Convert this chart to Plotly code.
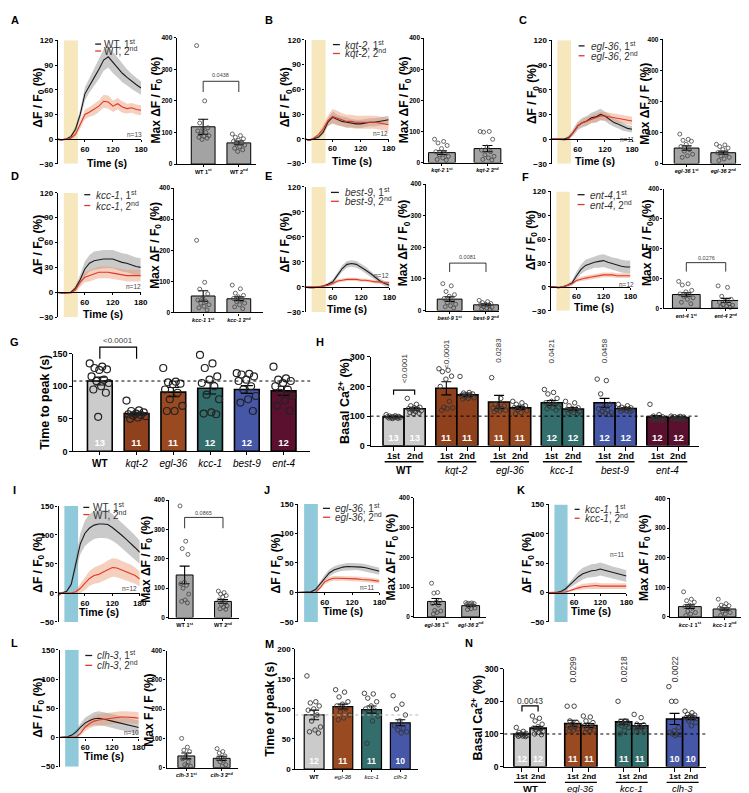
import plotly.graph_objects as go

FONT = "Liberation Sans"
W, H = 749, 793

# ------------------------------------------------------------------ data
time_s = [0, 10, 20, 30, 40, 50, 60, 70, 80, 90, 100, 110, 120, 130, 140, 150, 160, 170, 180]

A_1st_mean = [0, -1, 0, 3, 12, 30, 55, 66, 75, 85, 96, 100, 93, 87, 80, 75, 70, 66, 62]
A_1st_sem = [1, 1, 1, 2, 4, 6, 8, 9, 10, 12, 13, 13, 13, 12, 11, 10, 9, 9, 8]
A_2nd_mean = [0, -1, 0, 1, 6, 18, 30, 33, 36, 40, 46, 45, 40, 43, 39, 37, 38, 36, 35]
A_2nd_sem = [1, 1, 1, 2, 3, 5, 6, 6, 7, 7, 8, 8, 7, 7, 7, 6, 6, 6, 6]

B_1st_mean = [0, -2, 0, 2, 8, 20, 26, 23, 21, 20, 19, 18, 18, 19, 20, 20, 21, 22, 23]
B_1st_sem = [1, 1, 1, 2, 3, 5, 7, 6, 6, 6, 5, 5, 5, 5, 5, 5, 5, 5, 5]
B_2nd_mean = [0, -2, 1, 5, 12, 22, 27, 25, 23, 21, 21, 20, 20, 20, 20, 20, 19, 18, 17]
B_2nd_sem = [1, 1, 1, 2, 4, 6, 9, 9, 8, 8, 8, 8, 8, 8, 8, 8, 8, 8, 8]

C_1st_mean = [0, 0, 0, 0, 2, 8, 16, 20, 22, 26, 27, 30, 28, 24, 20, 18, 15, 13, 12]
C_1st_sem = [1, 1, 1, 1, 2, 4, 5, 6, 6, 6, 7, 7, 6, 6, 5, 5, 5, 4, 4]
C_2nd_mean = [0, 0, 0, -1, 1, 8, 16, 20, 22, 24, 26, 28, 28, 27, 26, 25, 24, 23, 22]
C_2nd_sem = [1, 1, 1, 1, 2, 3, 4, 4, 5, 5, 5, 5, 5, 5, 5, 5, 5, 5, 5]

D_1st_mean = [0, -1, -1, 0, 5, 15, 28, 35, 38, 39, 40, 40, 40, 38, 36, 35, 33, 31, 30]
D_1st_sem = [1, 1, 1, 1, 3, 6, 9, 10, 11, 11, 11, 11, 11, 11, 11, 11, 11, 11, 11]
D_2nd_mean = [0, -1, -1, -1, 3, 12, 18, 20, 22, 24, 24, 24, 23, 22, 21, 20, 20, 20, 20]
D_2nd_sem = [1, 1, 1, 1, 2, 5, 6, 7, 7, 7, 7, 7, 7, 7, 7, 7, 7, 7, 7]

E_1st_mean = [0, -1, -1, 0, 1, 3, 6, 14, 22, 27, 28, 27, 24, 20, 16, 11, 7, 4, 2]
E_1st_sem = [1, 1, 1, 1, 1, 2, 3, 3, 4, 4, 4, 4, 4, 4, 3, 3, 3, 3, 3]
E_2nd_mean = [0, 0, 0, 0, 1, 2, 4, 7, 8, 9, 9, 9, 8, 8, 7, 6, 6, 5, 5]
E_2nd_sem = [1, 1, 1, 1, 1, 2, 2, 2, 2, 2, 2, 2, 2, 2, 2, 2, 2, 2, 2]

F_1st_mean = [0, 0, -1, 0, 2, 5, 14, 22, 27, 29, 31, 32, 33, 31, 29, 28, 26, 25, 25]
F_1st_sem = [1, 1, 1, 1, 2, 3, 5, 6, 7, 7, 7, 8, 8, 8, 8, 8, 8, 8, 8]
F_2nd_mean = [0, 0, -1, 0, 2, 4, 8, 10, 11, 12, 13, 14, 15, 15, 15, 14, 14, 14, 14]
F_2nd_sem = [1, 1, 1, 1, 1, 2, 2, 3, 3, 3, 3, 3, 3, 3, 3, 3, 3, 3, 3]

I_1st_mean = [0, 0, 3, 15, 50, 85, 103, 112, 117, 119, 119, 118, 113, 107, 100, 93, 86, 78, 70]
I_1st_sem = [1, 1, 2, 5, 12, 18, 22, 24, 24, 24, 24, 24, 23, 22, 21, 21, 21, 21, 20]
I_2nd_mean = [-5, 0, 0, 0, 2, 8, 17, 25, 30, 32, 36, 40, 44, 43, 40, 37, 34, 30, 24]
I_2nd_sem = [3, 2, 2, 2, 3, 8, 12, 13, 14, 15, 15, 16, 16, 16, 15, 15, 15, 14, 13]

J_1st_mean = [0, 0, 0, 1, 5, 15, 25, 33, 38, 41, 43, 44, 44, 44, 43, 42, 40, 38, 36]
J_1st_sem = [1, 1, 1, 1, 2, 4, 5, 6, 6, 6, 6, 6, 6, 6, 6, 6, 6, 6, 6]
J_2nd_mean = [0, 0, 0, -1, 0, 8, 18, 22, 24, 24, 24, 24, 23, 23, 22, 22, 21, 20, 19]
J_2nd_sem = [1, 1, 1, 1, 1, 3, 4, 4, 4, 4, 4, 4, 4, 4, 4, 4, 4, 4, 4]

K_1st_mean = [0, 0, 0, 2, 6, 13, 20, 27, 32, 35, 37, 38, 40, 38, 36, 34, 32, 30, 28]
K_1st_sem = [1, 1, 1, 1, 3, 5, 7, 9, 10, 10, 11, 11, 11, 11, 10, 10, 10, 10, 10]
K_2nd_mean = [0, 0, 0, 0, 1, 3, 6, 8, 10, 11, 12, 12, 11, 11, 11, 11, 11, 11, 11]
K_2nd_sem = [1, 1, 1, 1, 1, 2, 3, 4, 5, 5, 5, 5, 5, 5, 5, 5, 5, 5, 5]

L_1st_mean = [0, 0, 1, 4, 10, 18, 25, 29, 32, 33, 32, 30, 28, 26, 24, 22, 20, 19, 17]
L_1st_sem = [1, 1, 1, 2, 4, 7, 9, 10, 11, 12, 12, 12, 12, 12, 12, 12, 12, 12, 12]
L_2nd_mean = [0, 0, 0, 0, 1, 8, 18, 24, 28, 30, 31, 33, 34, 34, 35, 35, 35, 34, 33]
L_2nd_sem = [1, 1, 1, 1, 1, 4, 7, 8, 9, 10, 10, 10, 10, 10, 10, 10, 10, 10, 10]

# max dF/F0 bar panels: [1st, 2nd]
A_max_mean = [118, 67]
A_max_sem = [24, 6]
A_max_1st = [375, 200, 130, 115, 112, 105, 100, 95, 90, 88, 85, 82, 78]
A_max_2nd = [95, 90, 85, 80, 75, 72, 68, 65, 60, 55, 50, 45, 40]
B_max_mean = [32, 45]
B_max_sem = [6, 10]
B_max_1st = [75, 68, 63, 55, 45, 35, 30, 25, 20, 15, 10, 8]
B_max_2nd = [100, 100, 98, 75, 50, 40, 35, 25, 20, 15, 10, 8]
C_max_mean = [50, 35]
C_max_sem = [7, 5]
C_max_1st = [95, 78, 75, 72, 62, 55, 45, 40, 30, 25, 20]
C_max_2nd = [62, 60, 55, 50, 45, 35, 30, 25, 20, 15, 10]
D_max_mean = [53, 44]
D_max_sem = [17, 6]
D_max_1st = [232, 97, 75, 60, 45, 40, 35, 30, 25, 20, 15, 8]
D_max_2nd = [88, 76, 62, 55, 50, 45, 40, 35, 30, 25, 18, 12]
E_max_mean = [36, 18]
E_max_sem = [7, 3]
E_max_1st = [85, 78, 60, 50, 45, 38, 30, 25, 20, 15, 12, 8]
E_max_2nd = [32, 28, 25, 22, 20, 18, 15, 12, 10, 8, 5, 3]
F_max_mean = [46, 26]
F_max_sem = [6, 7]
F_max_1st = [90, 82, 78, 60, 55, 48, 45, 40, 35, 30, 20, 15]
F_max_2nd = [75, 70, 40, 30, 25, 20, 15, 12, 10, 8, 5, 3]
I_max_mean = [145, 55]
I_max_sem = [30, 6]
I_max_1st = [380, 260, 235, 215, 120, 115, 110, 100, 80, 60, 55, 50]
I_max_2nd = [90, 85, 80, 75, 70, 60, 50, 45, 40, 35, 30, 28]
J_max_mean = [52, 38]
J_max_sem = [10, 3]
J_max_1st = [113, 82, 80, 55, 50, 45, 40, 22, 20, 15, 10]
J_max_2nd = [48, 47, 46, 45, 44, 42, 40, 35, 30, 28, 25]
K_max_mean = [35, 27]
K_max_sem = [6, 4]
K_max_1st = [85, 60, 55, 50, 40, 35, 30, 20, 15, 10, 5]
K_max_2nd = [60, 45, 40, 38, 35, 30, 25, 20, 15, 10, 5]
L_max_mean = [40, 32]
L_max_sem = [10, 7]
L_max_1st = [100, 70, 60, 55, 40, 30, 20, 10, 5, 5]
L_max_2nd = [65, 55, 50, 40, 35, 30, 25, 20, 10, 5]

# G: time to peak
G_strains = ["WT", "kqt-2", "egl-36", "kcc-1", "best-9", "ent-4"]
G_mean = [108, 58, 91, 97, 95, 93]
G_sem = [6, 2, 7, 9, 6, 7]
G_n = [13, 11, 11, 12, 12, 12]
G_points = [
    [135, 130, 128, 126, 125, 115, 110, 108, 105, 100, 95, 90, 53],
    [78, 63, 62, 60, 58, 57, 56, 55, 54, 52, 50],
    [128, 107, 106, 104, 103, 95, 90, 80, 70, 62, 62],
    [148, 135, 128, 115, 110, 105, 100, 87, 80, 60, 58, 57],
    [120, 119, 118, 115, 110, 108, 100, 95, 85, 80, 75, 62],
    [130, 112, 110, 108, 105, 100, 95, 90, 85, 78, 70, 62],
]

# H: basal Ca2+ (1st, 2nd per strain)
H_mean = [97, 125, 194, 172, 148, 128, 145, 124, 145, 126, 97, 95]
H_sem = [2, 5, 22, 6, 22, 5, 8, 5, 15, 3, 5, 2]
H_n = [13, 13, 11, 11, 11, 11, 12, 12, 12, 12, 12, 12]
H_points = [
    [105, 101, 100, 99, 98, 98, 97, 96, 95, 95, 94, 93, 92],
    [160, 140, 135, 130, 128, 125, 122, 120, 118, 115, 112, 110, 108],
    [260, 255, 250, 235, 225, 200, 150, 130, 128, 125, 120],
    [234, 180, 178, 175, 172, 170, 168, 165, 162, 160, 158],
    [230, 160, 140, 135, 130, 128, 125, 122, 120, 118, 115],
    [150, 145, 140, 135, 130, 128, 125, 122, 118, 112, 108],
    [190, 180, 175, 160, 150, 145, 140, 135, 130, 128, 125, 120],
    [150, 145, 135, 128, 125, 122, 120, 118, 115, 112, 110, 108],
    [225, 220, 175, 140, 130, 125, 120, 115, 112, 110, 108, 105],
    [140, 135, 130, 128, 126, 125, 124, 122, 120, 118, 116, 115],
    [140, 105, 100, 98, 96, 95, 94, 92, 90, 88, 87, 85],
    [100, 99, 98, 97, 96, 95, 94, 93, 92, 91, 90, 89],
]
H_pvalues = ["<0.0001", "<0.0001", "0.0283", "0.0421", "0.0458"]
pair_labels = ["1st", "2nd"]

# M: time of peak
M_strains = ["WT", "egl-36", "kcc-1", "clh-3"]
M_mean = [90, 104, 99, 77]
M_sem = [8, 4, 6, 5]
M_n = [12, 11, 11, 10]
M_points = [
    [155, 112, 110, 105, 100, 98, 90, 80, 70, 65, 62, 60],
    [132, 128, 120, 112, 108, 105, 100, 95, 90, 85, 82],
    [126, 125, 118, 112, 105, 100, 98, 95, 88, 80, 43],
    [122, 108, 100, 90, 80, 72, 68, 65, 62, 60],
]

# N: basal Ca2+
N_strains = ["WT", "egl-36", "kcc-1", "clh-3"]
N_mean = [100, 118, 132, 126, 137, 125, 146, 150]
N_sem = [3, 5, 10, 6, 8, 7, 17, 6]
N_n = [12, 12, 11, 11, 11, 11, 10, 10]
N_points = [
    [120, 108, 105, 102, 100, 98, 97, 96, 95, 94, 93, 92],
    [155, 148, 140, 130, 122, 118, 115, 112, 108, 105, 100, 98],
    [185, 185, 140, 135, 130, 125, 120, 118, 115, 112, 110],
    [155, 152, 140, 135, 128, 125, 120, 115, 112, 110, 105],
    [200, 140, 138, 135, 132, 130, 128, 125, 120, 110, 100],
    [160, 150, 130, 128, 125, 120, 118, 115, 112, 110, 108],
    [245, 200, 200, 120, 110, 105, 100, 100, 98, 95],
    [170, 165, 160, 158, 155, 150, 148, 140, 135, 125],
]
N_pvalues = ["0.0299", "0.0218", "0.0022"]

# ------------------------------------------------------------------ helpers
traces, shapes, annots, axes = [], [], [], {}
counter = {"n": 0}


def fx(p):
    return p / W


def fy(p):
    return 1 - p / H


class Map:
    def __init__(self, xpx, ypx, xr, yr):
        self.xpx, self.ypx, self.xr, self.yr = xpx, ypx, xr, yr

    def px(self, v):
        return self.xpx[0] + (v - self.xr[0]) / (self.xr[1] - self.xr[0]) * (self.xpx[1] - self.xpx[0])

    def py(self, v):
        return self.ypx[1] - (v - self.yr[0]) / (self.yr[1] - self.yr[0]) * (self.ypx[1] - self.ypx[0])


def tickfont(size, weight="bold"):
    return dict(family=FONT, size=size, color="black", weight=weight)


def make_axes(xpx, ypx, xr, yr, xextra, yextra):
    counter["n"] += 1
    s = "" if counter["n"] == 1 else str(counter["n"])
    base = dict(showgrid=False, zeroline=False, showline=True, linecolor="black", linewidth=1.1,
                ticks="outside", ticklen=3, tickwidth=1, tickcolor="black", fixedrange=True)
    xa = dict(base, domain=[fx(xpx[0]), fx(xpx[1])], range=xr, anchor="y" + s)
    ya = dict(base, domain=[fy(ypx[1]), fy(ypx[0])], range=yr, anchor="x" + s)
    xa.update(xextra)
    ya.update(yextra)
    axes["xaxis" + s] = xa
    axes["yaxis" + s] = ya
    return "x" + s, "y" + s


def ann(x, y, text, size, color="black", angle=0, xanchor="center", yanchor="middle"):
    annots.append(dict(x=fx(x), y=fy(y), xref="paper", yref="paper", text=text, showarrow=False,
                       font=dict(family=FONT, size=size, color=color), textangle=angle,
                       xanchor=xanchor, yanchor=yanchor))


def pline(x0, y0, x1, y1, color="black", width=1, dash=None):
    ln = dict(color=color, width=width)
    if dash:
        ln["dash"] = dash
    shapes.append(dict(type="line", xref="paper", yref="paper", x0=fx(x0), y0=fy(y0), x1=fx(x1), y1=fy(y1), line=ln))


def bracket(xa_px, xb_px, top_px, leg_px, width=1.0):
    shapes.append(dict(type="path", xref="paper", yref="paper",
                       path=f"M {fx(xa_px)},{fy(leg_px)} L {fx(xa_px)},{fy(top_px)} L {fx(xb_px)},{fy(top_px)} L {fx(xb_px)},{fy(leg_px)}",
                       line=dict(color="black", width=width)))


BLACK = "#1b1b1b"
RED = "#e2362b"
GRAYBAND = "rgba(150,150,150,0.5)"
REDBAND = "rgba(236,150,110,0.45)"
YELLOW = "#f6e7bd"
BLUE = "#90c9da"


def line_panel(geom, yr, yticks, stim, s1, s2, legend, names, npos, ntext, ytitle, xtitle):
    x0, x1, ytop, ybot = geom
    m = Map((x0, x1), (ytop, ybot), (0, 180), yr)
    xa, ya = make_axes((x0, x1), (ytop, ybot), [0, 180], list(yr),
                       dict(anchor="free", position=fy(m.py(0)), tickvals=[60, 120, 180], tickfont=tickfont(8),
                            ticklen=2),
                       dict(anchor="free", position=fx(x0), tickvals=yticks, tickfont=tickfont(8), ticklen=2))
    shapes.append(dict(type="rect", xref=xa, yref=ya, x0=15, x1=45, y0=yr[0], y1=yr[1],
                       fillcolor=stim, line=dict(width=0), layer="below"))
    for (mean, sem), band in ((s1, GRAYBAND), (s2, REDBAND)):
        up = [a + b for a, b in zip(mean, sem)]
        lo = [a - b for a, b in zip(mean, sem)]
        traces.append(go.Scatter(x=time_s + time_s[::-1], y=up + lo[::-1], fill="toself", fillcolor=band,
                                 mode="lines", line=dict(width=0), hoverinfo="skip", showlegend=False,
                                 xaxis=xa, yaxis=ya))
    for (mean, sem), col in ((s1, BLACK), (s2, RED)):
        traces.append(go.Scatter(x=time_s, y=mean, mode="lines", line=dict(color=col, width=1.1),
                                 hoverinfo="skip", showlegend=False, xaxis=xa, yaxis=ya))
    lx0, lx1, r1, r2, tx = legend
    pline(lx0, r1, lx1, r1, BLACK, 1.3)
    pline(lx0, r2, lx1, r2, RED, 1.3)
    ann(tx, r1, names[0], 10, "#333", xanchor="left")
    ann(tx, r2, names[1], 10, "#333", xanchor="left")
    ann(npos[0], npos[1], ntext, 6.5, "#444")
    ann(ytitle[0], ytitle[1], "<b>ΔF / F<sub>0</sub> (%)</b>", 12, angle=-90)
    ann(xtitle[0], xtitle[1], "<b>Time (s)</b>", 10.5)
    return m


def jitter(n, spread):
    return [(((i * 0.618034) % 1.0) - 0.5) * spread for i in range(n)]


def add_points(xa, ya, pos, pts, spread, size, lw, fill="rgba(0,0,0,0)", col="#333"):
    for p, vals in zip(pos, pts):
        xs = [p + d for d in jitter(len(vals), spread)]
        traces.append(go.Scatter(x=xs, y=vals, mode="markers", cliponaxis=False,
                                 marker=dict(symbol="circle", size=size, color=fill, line=dict(color=col, width=lw)),
                                 hoverinfo="skip", showlegend=False, xaxis=xa, yaxis=ya))


def add_bars(xa, ya, pos, means, sems, colors, bw, lw, cap, text=None, tsize=9.5):
    kw = {}
    if text:
        kw = dict(text=text, textposition="inside", insidetextanchor="start", textangle=0,
                  constraintext="none", textfont=dict(family=FONT, size=tsize, color="white", weight="bold"))
    traces.append(go.Bar(x=pos, y=means, width=bw,
                         marker=dict(color=colors, line=dict(color="black", width=lw)),
                         error_y=dict(type="data", array=sems, visible=True, color="black", thickness=1.1, width=cap),
                         hoverinfo="skip", showlegend=False, xaxis=xa, yaxis=ya, **kw))


def max_panel(xl, xr_px, ytop, ybot, c0, c1, bw_px, means, sems, pts, labels, ytitle, title_text):
    u = c1 - c0
    xr = [(xl - c0) / u, (xr_px - c0) / u]
    m = Map((xl, xr_px), (ytop, ybot), xr, (0, 400))
    xa, ya = make_axes((xl, xr_px), (ytop, ybot), xr, [0, 400],
                       dict(tickvals=[0, 1], ticktext=labels, tickfont=tickfont(5.5), ticklen=2),
                       dict(tickvals=[0, 100, 200, 300, 400], tickfont=tickfont(6.5), ticklen=2))
    add_bars(xa, ya, [0, 1], means, sems, ["#a3a3a3", "#a3a3a3"], bw_px / u, 1, 5)
    add_points(xa, ya, [0, 1], pts, 0.55 * bw_px / u, 4, 0.8, "rgba(0,0,0,0)", "#444")
    ann(ytitle[0], ytitle[1], title_text, 12, angle=-90)
    return m


MAXT = "<b>Max ΔF / F<sub>0</sub> (%)</b>"


def lab(g, k):
    sup = "st" if k == 1 else "nd"
    return f"{g} {k}<sup>{sup}</sup>"


def leg(g, k):
    sup = "st" if k == 1 else "nd"
    return f"{g}, {k}<sup>{sup}</sup>"


# ------------------------------------------------------------------ panels A-F
line_panel((49.3, 134.3, 27.7, 152.7), (-30, 120), [-30, 0, 30, 60, 90, 120], YELLOW,
           (A_1st_mean, A_1st_sem), (A_2nd_mean, A_2nd_sem), (88, 94, 31.5, 38.5, 95),
           (leg("WT", 1), leg("WT", 2)), (128, 122.7), "n=13", (31, 86), (100, 152))
mA = max_panel(170.3, 250, 25, 153, 197, 233, 24, A_max_mean, A_max_sem, [A_max_1st, A_max_2nd],
               ["<b>WT 1<sup>st</sup></b>", "<b>WT 2<sup>nd</sup></b>"], (150, 88), MAXT)
bracket(mA.px(0), mA.px(1), mA.py(262), mA.py(228), 0.8)
ann(mA.px(0.5), mA.py(282), "0.0438", 5.5, "#444")

line_panel((299.3, 384.3, 27.3, 152.3), (-30, 120), [-30, 0, 30, 60, 90, 120], YELLOW,
           (B_1st_mean, B_1st_sem), (B_2nd_mean, B_2nd_sem), (328, 335, 32, 41, 338),
           (leg("<i>kqt-2</i>", 1), leg("<i>kqt-2</i>", 2)), (376, 122.3), "n=12", (281, 85), (347, 150))
max_panel(420.3, 500, 25.5, 151.5, 438, 484, 27, B_max_mean, B_max_sem, [B_max_1st, B_max_2nd],
          [lab("<i>kqt-2</i>", 1), lab("<i>kqt-2</i>", 2)], (401, 88), MAXT)

line_panel((547.7, 630, 27.7, 152.7), (-30, 120), [-30, 0, 30, 60, 90, 120], YELLOW,
           (C_1st_mean, C_1st_sem), (C_2nd_mean, C_2nd_sem), (576, 582, 33.3, 43.3, 586),
           (leg("<i>egl-36</i>", 1), leg("<i>egl-36</i>", 2)), (625, 127.7), "n=11", (530, 82), (593, 150))
max_panel(661, 745, 26.7, 152.5, 685, 722, 25, C_max_mean, C_max_sem, [C_max_1st, C_max_2nd],
          [lab("<i>egl-36</i>", 1), lab("<i>egl-36</i>", 2)], (643, 92), "<b>Max ΔF / F (%)</b>")

line_panel((49.3, 134, 182, 308), (-30, 120), [-30, 0, 30, 60, 90, 120], YELLOW,
           (D_1st_mean, D_1st_sem), (D_2nd_mean, D_2nd_sem), (77, 83, 184, 195, 87),
           (leg("<i>kcc-1</i>", 1), leg("<i>kcc-1</i>", 2)), (127, 276.7), "n=12", (31, 235), (96, 305))
max_panel(168, 257, 177.3, 303.3, 197, 233, 24, D_max_mean, D_max_sem, [D_max_1st, D_max_2nd],
          [lab("<i>kcc-1</i>", 1), lab("<i>kcc-1</i>", 2)], (149, 235), MAXT)

line_panel((299.3, 385, 176, 302.7), (-30, 120), [-30, 0, 30, 60, 90, 120], YELLOW,
           (E_1st_mean, E_1st_sem), (E_2nd_mean, E_2nd_sem), (326, 334, 181.7, 190.7, 338),
           (leg("<i>best-9</i>", 1), leg("<i>best-9</i>", 2)), (377, 266), "n=12", (281, 232), (342, 300))
mE = max_panel(421.7, 496, 173.3, 301.3, 445.8, 482.5, 25, E_max_mean, E_max_sem, [E_max_1st, E_max_2nd],
               [lab("<i>best-9</i>", 1), lab("<i>best-9</i>", 2)], (400, 233), MAXT)
bracket(mE.px(0), mE.px(1), mE.py(150), mE.py(122), 0.8)
ann(mE.px(0.5), mE.py(168), "0.0081", 5.5, "#444")

line_panel((546.7, 628.3, 180.7, 301.5), (-30, 120), [-30, 0, 30, 60, 90, 120], YELLOW,
           (F_1st_mean, F_1st_sem), (F_2nd_mean, F_2nd_sem), (575, 582, 184, 194, 585),
           ("<i>ent-4</i>,1<sup>st</sup>", leg("<i>ent-4</i>", 2)), (624, 275), "n=12", (529, 230), (592, 297.5))
mF = max_panel(661.7, 737, 178.3, 299, 684.7, 724.5, 28, F_max_mean, F_max_sem, [F_max_1st, F_max_2nd],
               [lab("<i>ent-4</i>", 1), lab("<i>ent-4</i>", 2)], (646, 232), MAXT)
bracket(mF.px(0), mF.px(1), mF.py(153), mF.py(123), 0.8)
ann(mF.px(0.5), mF.py(170), "0.0276", 5.5, "#444")

# ------------------------------------------------------------------ G
G_colors = ["#cbcbcb", "#8f401c", "#9a4a20", "#336e6c", "#4557a6", "#5a102e"]
u = 37.1
gxr = [(66 - 92.7) / u, (305 - 92.7) / u]
mG = Map((66, 305), (345, 444), gxr, (0, 150))
G_tick = ["<b>WT</b>"] + [f"<i>{s}</i>" for s in G_strains[1:]]
xa, ya = make_axes((66, 305), (345, 444), gxr, [0, 150],
                   dict(tickvals=list(range(6)), ticktext=G_tick, tickfont=tickfont(10, "normal"), ticklen=3),
                   dict(tickvals=[0, 50, 100, 150], tickfont=tickfont(9)))
shapes.append(dict(type="line", xref=xa + " domain", yref=ya, x0=0, x1=1, y0=108, y1=108,
                   line=dict(color="black", width=1, dash="dot")))
add_bars(xa, ya, list(range(6)), G_mean, G_sem, G_colors, 25 / u, 1.6, 6, [str(n) for n in G_n], 9.5)
add_points(xa, ya, list(range(6)), G_points, 0.55, 7, 1.2, "rgba(255,255,255,0)", "#222")
bracket(mG.px(0), mG.px(1), mG.py(160), mG.py(142), 1.2)
ann(mG.px(0.5), mG.py(170), "<0.0001", 8, "#444")
ann(37, 394, "<b>Time to peak (s)</b>", 12.5, angle=-90)

# ------------------------------------------------------------------ H
H_pos = [2.5 * (i // 2) + (i % 2) for i in range(12)]
H_colors = []
for c in G_colors:
    H_colors += [c, c]
hu = 21.3
hxr = [(366 - 389.2) / hu, (698 - 389.2) / hu]
mH = Map((366, 698), (348.3, 438.3), hxr, (0, 300))
xa, ya = make_axes((366, 698), (348.3, 438.3), hxr, [0, 300],
                   dict(tickvals=H_pos, showticklabels=False, ticklen=4),
                   dict(tickvals=[0, 100, 200, 300], tickfont=tickfont(9)))
shapes.append(dict(type="line", xref=xa + " domain", yref=ya, x0=0, x1=1, y0=100, y1=100,
                   line=dict(color="black", width=1, dash="dot")))
add_bars(xa, ya, H_pos, H_mean, H_sem, H_colors, 1.0, 1.6, 5, [str(n) for n in H_n], 9.5)
add_points(xa, ya, H_pos, H_points, 0.7, 4.5, 0.9, "rgba(255,255,255,0)", "#333")
for i, p in enumerate(H_pos):
    ann(mH.px(p), 448.5, f"<b>{pair_labels[i % 2]}</b>", 9)
for g, name in enumerate(G_tick):
    a, b = mH.px(2.5 * g), mH.px(2.5 * g + 1)
    pline(a - 9, 454.5, b + 9, 454.5, "black", 1.3)
    ann((a + b) / 2, 463, name, 10)
bracket(mH.px(0), mH.px(1), mH.py(188), mH.py(172), 1.2)
ann(mH.px(0.5), mH.py(262), H_pvalues[0], 8, "#333", angle=-90)
ann(mH.px(2.5), mH.py(311), H_pvalues[1], 8, "#333", angle=-90)
for g, pv in zip([2, 3, 4], H_pvalues[2:]):
    ann(mH.px(2.5 * g), mH.py(321), pv, 8, "#333", angle=-90)
ann(339, 393, "<b>Basal Ca<sup>2+</sup> (%)</b>", 12.5, angle=-90)

# ------------------------------------------------------------------ I-L
line_panel((50, 133, 499.3, 616.7), (-50, 150), [-50, 0, 50, 100, 150], BLUE,
           (I_1st_mean, I_1st_sem), (I_2nd_mean, I_2nd_sem), (76, 82, 500.7, 508, 84),
           (leg("WT", 1), leg("WT", 2)), (123, 582.7), "n=12", (31, 557), (92, 607))
mI = max_panel(162.7, 233, 493.3, 612.3, 178.3, 217, 17, I_max_mean, I_max_sem, [I_max_1st, I_max_2nd],
               ["<b>WT 1<sup>st</sup></b>", "<b>WT 2<sup>nd</sup></b>"], (140, 553), MAXT)
bracket(mI.px(0), mI.px(1), mI.py(341), mI.py(304), 0.8)
ann(mI.px(0.5), mI.py(357), "0.0865", 5.5, "#444")

line_panel((292, 375, 497.3, 616.7), (-50, 150), [-50, 0, 50, 100, 150], BLUE,
           (J_1st_mean, J_1st_sem), (J_2nd_mean, J_2nd_sem), (318, 325, 501.7, 510.7, 328),
           (leg("<i>egl-36</i>", 1), leg("<i>egl-36</i>", 2)), (363, 581.7), "n=11", (272, 557), (338, 606))
max_panel(410, 483, 490.7, 611.7, 432.5, 467, 18, J_max_mean, J_max_sem, [J_max_1st, J_max_2nd],
          [lab("<i>egl-36</i>", 1), lab("<i>egl-36</i>", 2)], (388, 551), MAXT)

line_panel((545, 624.3, 497.7, 616.7), (-50, 150), [-50, 0, 50, 100, 150], BLUE,
           (K_1st_mean, K_1st_sem), (K_2nd_mean, K_2nd_sem), (572, 577, 502.7, 511.7, 580),
           (leg("<i>kcc-1</i>", 1), leg("<i>kcc-1</i>", 2)), (615, 548.3), "n=11", (525, 557), (588, 606))
max_panel(668.3, 740, 491.7, 611.7, 688.3, 723.3, 23, K_max_mean, K_max_sem, [K_max_1st, K_max_2nd],
          [lab("<i>kcc-1</i>", 1), lab("<i>kcc-1</i>", 2)], (643, 551), MAXT)

line_panel((51, 132, 645, 763.3), (-50, 150), [-50, 0, 50, 100, 150], BLUE,
           (L_1st_mean, L_1st_sem), (L_2nd_mean, L_2nd_sem), (78, 85, 650.7, 660.7, 88),
           (leg("<i>clh-3</i>", 1), leg("<i>clh-3</i>", 2)), (125, 729), "n=10", (31, 704), (97, 752))
max_panel(160, 232, 645.7, 764.3, 180, 215.7, 17, L_max_mean, L_max_sem, [L_max_1st, L_max_2nd],
          [lab("<i>clh-3</i>", 1), lab("<i>clh-3</i>", 2)], (142, 706), "<b>Max F / F (%)</b>")

# ------------------------------------------------------------------ M
M_colors = ["#cbcbcb", "#9a4a20", "#336e6c", "#4557a6"]
mu = 29.0
mxr = [(290 - 309) / mu, (414.3 - 309) / mu]
M_tick = ["<b>WT</b>"] + [f"<i>{s}</i>" for s in M_strains[1:]]
xa, ya = make_axes((290, 414.3), (644, 765.7), mxr, [0, 200],
                   dict(tickvals=list(range(4)), ticktext=M_tick, tickfont=tickfont(6, "normal"), ticklen=2),
                   dict(tickvals=[0, 50, 100, 150, 200], tickfont=tickfont(8), ticklen=2))
shapes.append(dict(type="line", xref=xa + " domain", yref=ya, x0=0, x1=1, y0=90, y1=90,
                   line=dict(color="#bbbbbb", width=1, dash="dot")))
add_bars(xa, ya, list(range(4)), M_mean, M_sem, M_colors, 20 / mu, 1.2, 5, [str(n) for n in M_n], 8.5)
add_points(xa, ya, list(range(4)), M_points, 0.5, 4.5, 0.9, "rgba(255,255,255,0)", "#333")
ann(265, 705, "<b>Time of peak (s)</b>", 12.5, angle=-90)

# ------------------------------------------------------------------ N
N_pos = [3.15 * (i // 2) + (i % 2) for i in range(8)]
N_colors = []
for c in M_colors:
    N_colors += [c, c]
nu = 16.3
nxr = [(501 - 518.8) / nu, (705 - 518.8) / nu]
mN = Map((501, 705), (664, 763.3), nxr, (0, 300))
xa, ya = make_axes((501, 705), (664, 763.3), nxr, [0, 300],
                   dict(tickvals=N_pos, showticklabels=False, ticklen=4),
                   dict(tickvals=[0, 100, 200, 300], tickfont=tickfont(8.5)))
shapes.append(dict(type="line", xref=xa + " domain", yref=ya, x0=0, x1=1, y0=100, y1=100,
                   line=dict(color="black", width=1, dash="dot")))
add_bars(xa, ya, N_pos, N_mean, N_sem, N_colors, 1.0, 1.6, 5, [str(n) for n in N_n], 9)
add_points(xa, ya, N_pos, N_points, 0.7, 4.5, 0.9, "rgba(255,255,255,0)", "#333")
for i, p in enumerate(N_pos):
    ann(mN.px(p), 773.3, f"<b>{pair_labels[i % 2]}</b>", 8)
for g, name in enumerate(M_tick):
    a, b = mN.px(3.15 * g), mN.px(3.15 * g + 1)
    pline(a - 8, 779.3, b + 8, 779.3, "black", 1.3)
    ann((a + b) / 2, 785.5, name, 9.5)
bracket(mN.px(0), mN.px(1), mN.py(186), mN.py(169), 1.2)
ann(mN.px(0.5), mN.py(202), "0.0043", 8.5, "#333")
for g, pv in zip([1, 2, 3], N_pvalues):
    ann(mN.px(3.15 * g), mN.py(297), pv, 8.5, "#333", angle=-90)
ann(473, 714, "<b>Basal Ca<sup>2+</sup> (%)</b>", 12.5, angle=-90)

# ------------------------------------------------------------------ letters
for t, x, y in [("A", 7, 7), ("B", 263, 7), ("C", 520, 7), ("D", 7, 165), ("E", 263, 165), ("F", 522, 166),
                ("G", 7, 333), ("H", 315, 333), ("I", 7, 483), ("J", 261, 483), ("K", 518, 483),
                ("L", 7, 638), ("M", 264, 639), ("N", 465, 638)]:
    ann(x, y, f"<b>{t}</b>", 11)

fig = go.Figure(traces)
fig.update_layout(width=W, height=H, margin=dict(l=0, r=0, t=0, b=0), paper_bgcolor="white",
                  plot_bgcolor="rgba(0,0,0,0)", showlegend=False, shapes=shapes, annotations=annots,
                  font=dict(family=FONT), barmode="overlay", **axes)
fig.write_html("out.html")
